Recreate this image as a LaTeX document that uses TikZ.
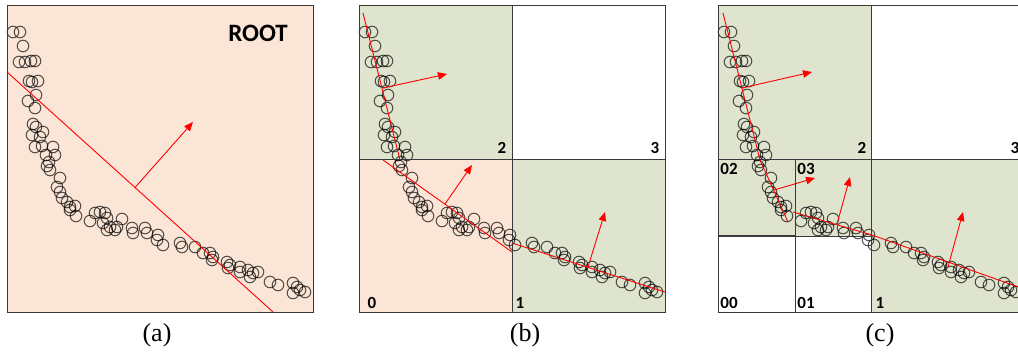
\documentclass[tikz,border=0pt]{standalone}
\usepackage{fontspec}
\setmainfont{Liberation Serif}
\newfontfamily\lab{Carlito}
\usetikzlibrary{arrows.meta}
\definecolor{peach}{HTML}{FBE5D6}
\definecolor{sage}{HTML}{DFE4CE}
\definecolor{framec}{HTML}{3A3A3A}
\tikzset{
 dot/.style={draw=black, draw opacity=0.65, line width=1pt},
 cutline/.style={red, line width=0.9pt},
 normal/.style={red, line width=0.9pt, -{Triangle[length=9pt,width=7.5pt]}},
 lbl/.style={font=\lab\bfseries\fontsize{17}{17}\selectfont, inner sep=0},
 rootlbl/.style={font=\lab\bfseries\fontsize{25}{25}\selectfont, inner sep=0},
 captxt/.style={font=\fontsize{26}{26}\selectfont, inner sep=0},
 box/.style={draw=framec, line width=0.9pt}
}
\newcommand\scatterpts{13/32,20/32,23/46,19/62,25/62,31/61,35/61,29/81,32/82,38/81,36/95,28/101,35/108,33/124,36/127,43/132,32/135,40/137,35/147,42/146,53/147,46/155,55/155,49/162,47/166,50/170,60/178,57/187,60/192,62/198,67/202,70/207,75/206,76/216,70/210,90/221,95/213,100/212,105/213,107/218,103/223,110/227,117/227,122/219,115/230,107/230,132/228,133/233,145/228,147/233,158/235,163/245,157/240,180/243,182/247,195/247,203/253,210/253,213/257,212/260,227/262,230/265,228/268,240/267,240/272,248/270,253/273,258/272,250/277,270/282,278/285,293/283,297/287,300/290,293/293,305/292}
\begin{document}
\begin{tikzpicture}[x=1pt,y=-1pt]
\useasboundingbox (0,0) rectangle (1018,356);
\clip (0,0) rectangle (1018,356);
% ---------- panel (a)
\fill[peach] (7,5) rectangle (313,312);
\foreach \u/\v in \scatterpts {\draw[dot] (\u,\v) circle[radius=5.8];}
\draw[cutline] (7,72) -- (273,312);
\draw[normal] (135,187.5) -- (193,122);
\draw[box] (7,5) rectangle (313,312);
\node[rootlbl] (root) at (258,33) {ROOT};
\node[captxt] (capa) at (157,335) {(a)};
% ---------- panel (b)
\fill[sage] (359,5) rectangle (512,159);
\fill[white] (512,5) rectangle (665,159);
\fill[peach] (359,159) rectangle (512,312);
\fill[sage] (512,159) rectangle (665,312);
\begin{scope}[xshift=352pt]
\foreach \u/\v in \scatterpts {\draw[dot] (\u,\v) circle[radius=5.8];}
\end{scope}
\draw[cutline] (363,13) -- (400,160);
\draw[normal] (383,88) -- (447,74);
\draw[cutline] (383,160) -- (512,252);
\draw[normal] (445,204) -- (472,165);
\draw[cutline] (512,243) -- (665,292);
\draw[normal] (588,267) -- (605,212);
\draw[box] (359,5) rectangle (665,312);
\draw[box] (512,5) -- (512,312);
\draw[box] (359,159) -- (665,159);
\node[lbl] (b2) at (502,148) {2};
\node[lbl] (b3) at (655,148) {3};
\node[lbl] (b0) at (372,303) {0};
\node[lbl] (b1) at (520,303) {1};
\node[captxt] (capb) at (525,335) {(b)};
% ---------- panel (c)
\fill[sage] (718,5) rectangle (871,159);
\fill[white] (871,5) rectangle (1024,159);
\fill[sage] (718,159) rectangle (871,236);
\fill[white] (718,236) rectangle (871,312);
\fill[sage] (871,159) rectangle (1024,312);
\begin{scope}[xshift=711pt]
\foreach \u/\v in \scatterpts {\draw[dot] (\u,\v) circle[radius=5.8];}
\end{scope}
\draw[cutline] (723,13) -- (760,160);
\draw[normal] (742,88) -- (812,72);
\draw[cutline] (760,160) -- (788,222);
\draw[normal] (774,190) -- (815,178);
\draw[cutline] (793,212) -- (872,235);
\draw[normal] (837,224) -- (850,177);
\draw[cutline] (872,235) -- (1024,289);
\draw[normal] (948,267) -- (963,212);
\draw[box] (718,5) rectangle (1024,312);
\draw[box] (871,5) -- (871,312);
\draw[box] (718,159) -- (1024,159);
\draw[box] (795,236) -- (871,236);
\draw[draw=framec, line width=1.8pt] (718,236) -- (795,236);
\draw[box] (795,159) -- (795,312);
\node[lbl] (c2) at (862,148) {2};
\node[lbl] (c3) at (1015,148) {3};
\node[lbl] (c02) at (729,169) {02};
\node[lbl] (c03) at (806,169) {03};
\node[lbl] (c00) at (729,303) {00};
\node[lbl] (c01) at (806,303) {01};
\node[lbl] (c1) at (880,303) {1};
\node[captxt] (capc) at (880,335) {(c)};
\end{tikzpicture}
\end{document}
